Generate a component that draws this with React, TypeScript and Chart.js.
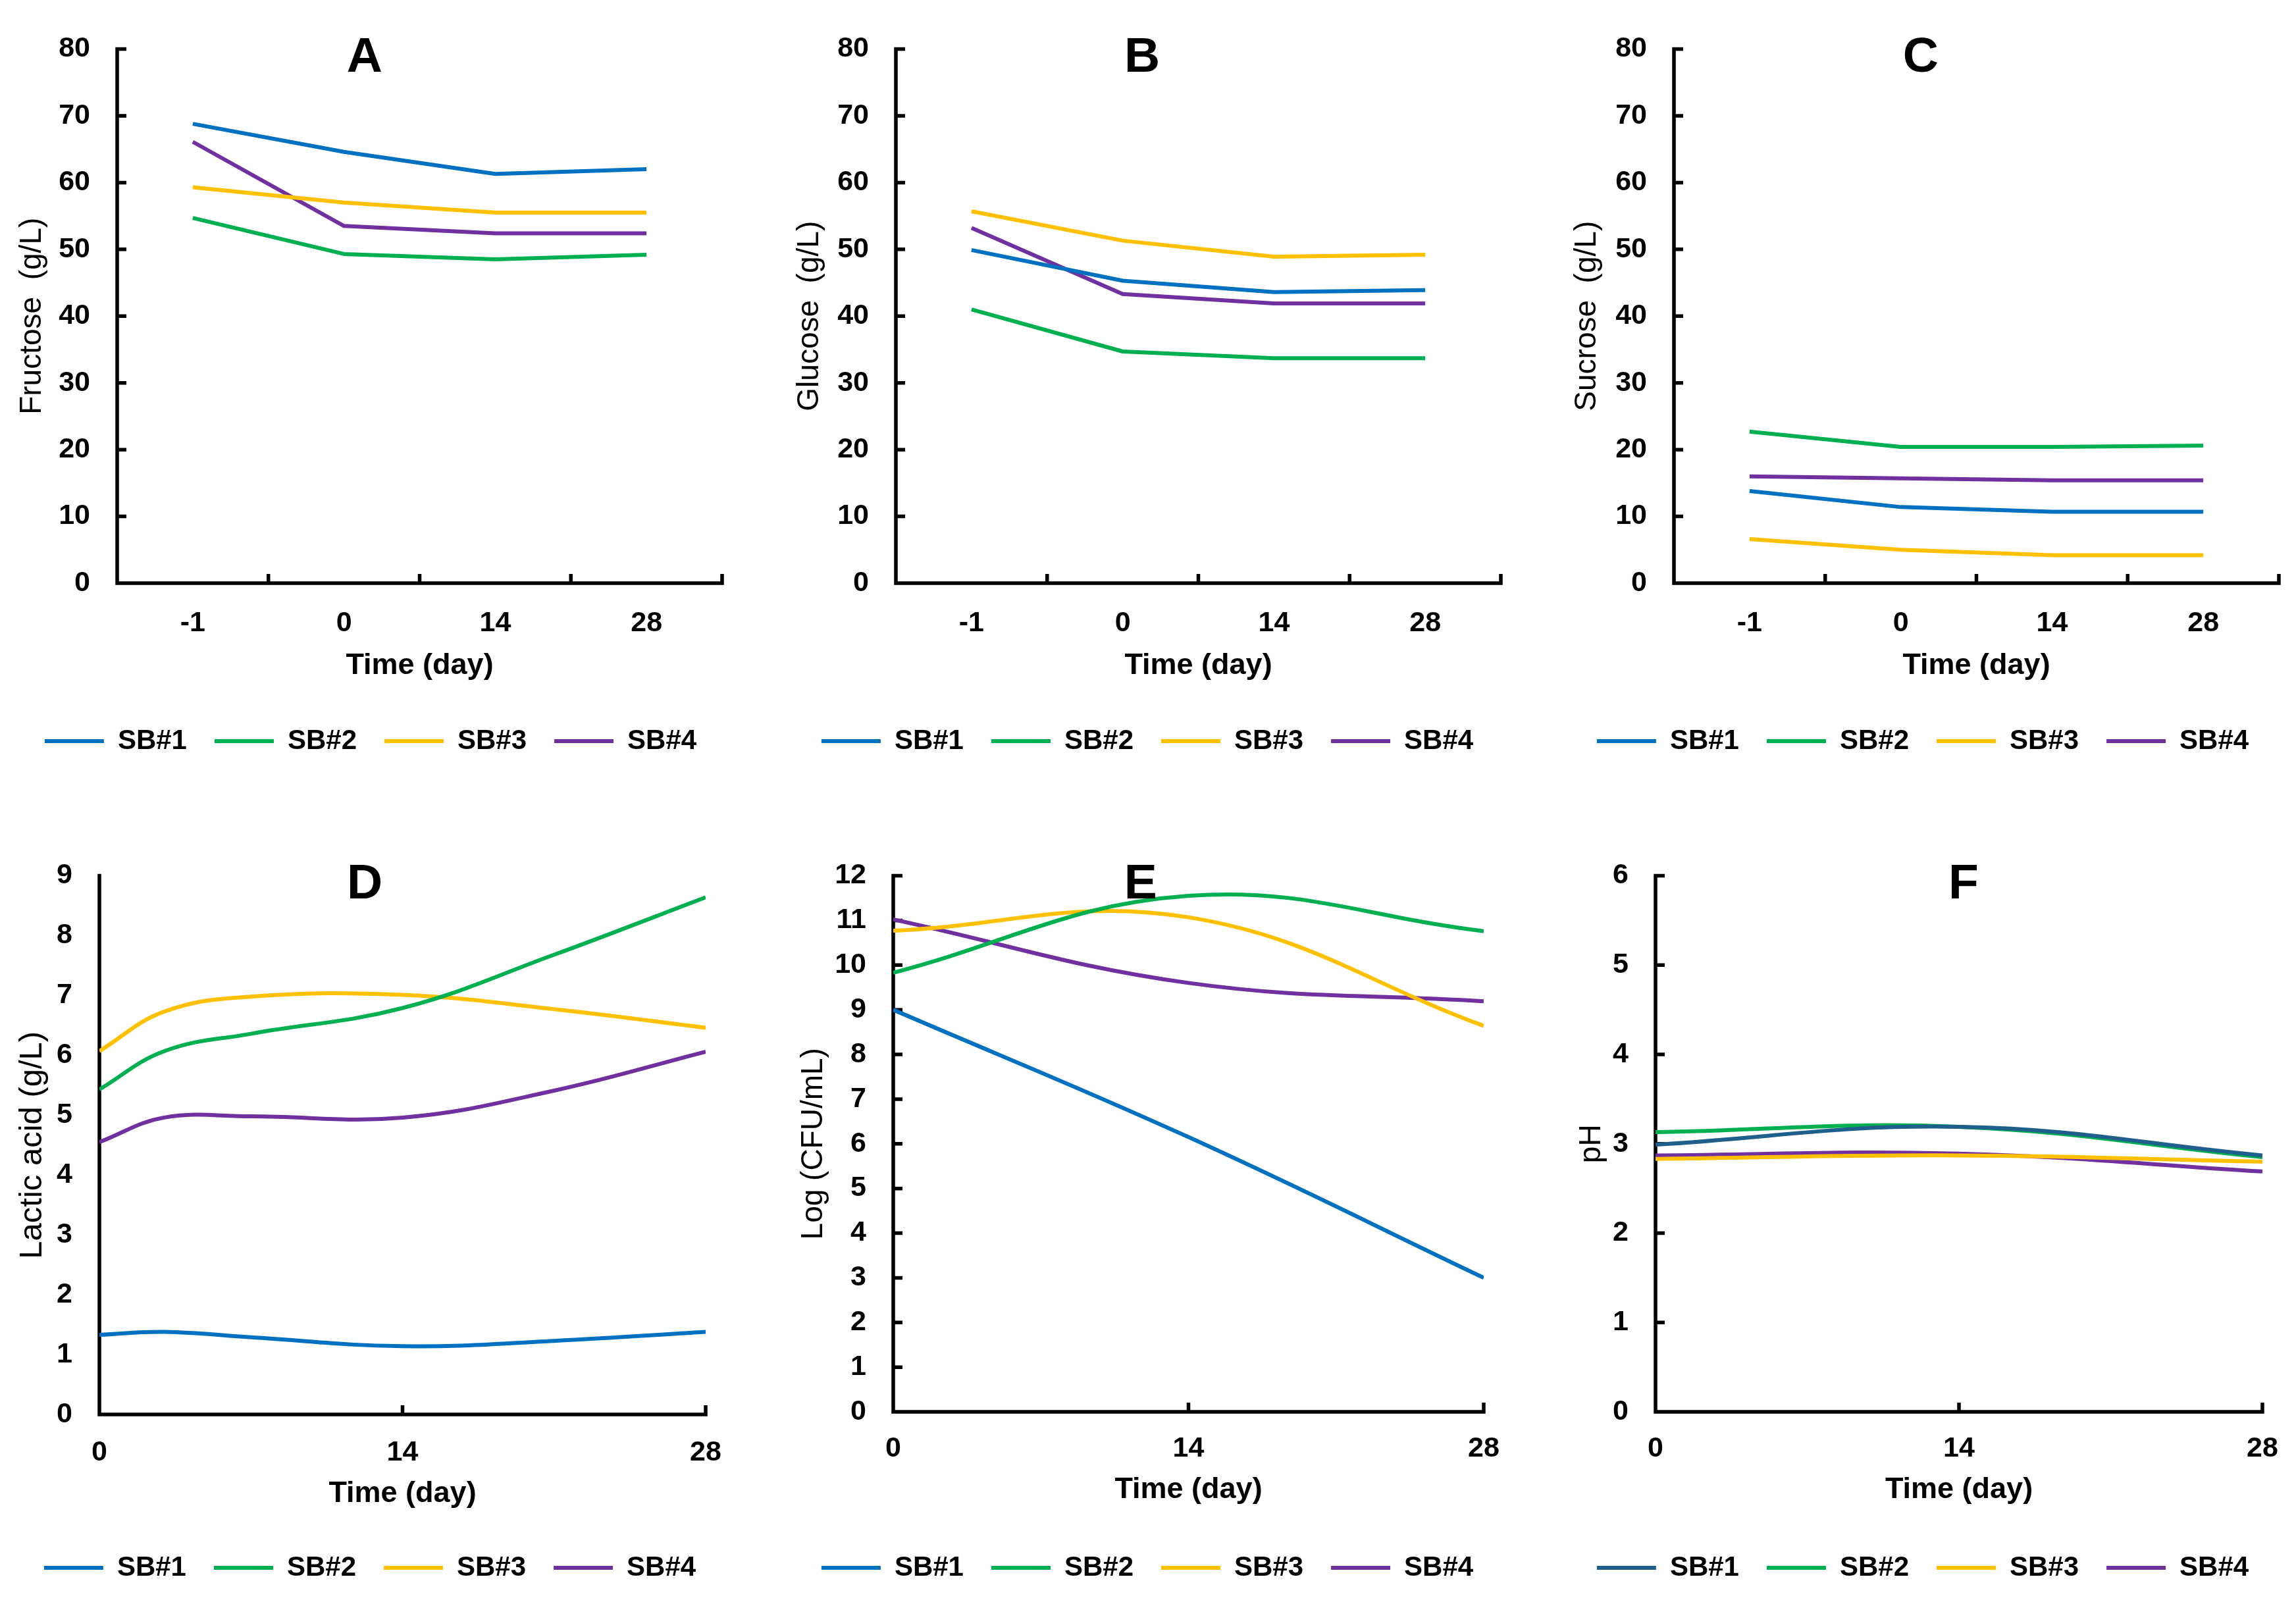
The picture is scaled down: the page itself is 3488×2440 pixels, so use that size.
import React, { useEffect, useRef } from 'react';
import { Chart, registerables } from 'chart.js';

Chart.register(...registerables);

if (typeof document !== 'undefined') {
  document.body.style.margin = '0';
  document.body.style.background = '#ffffff';
}

const FONT = "'Liberation Sans', Arial, Helvetica, sans-serif";

// ---------- data ----------
const seriesNames = ['SB#1', 'SB#2', 'SB#3', 'SB#4'];
const seriesColors = ['#0070C0', '#00B050', '#FFC000', '#7030A0'];
const phColors = ['#1F5F8B', '#00B050', '#FFC000', '#7030A0'];

const sugarDays = ['-1', '0', '14', '28'];
const fructose = [
  [68.8, 64.6, 61.3, 62.0],
  [54.7, 49.3, 48.5, 49.2],
  [59.3, 57.0, 55.5, 55.5],
  [66.1, 53.5, 52.4, 52.4],
];
const glucose = [
  [49.9, 45.3, 43.6, 43.9],
  [41.0, 34.7, 33.7, 33.7],
  [55.7, 51.3, 48.9, 49.2],
  [53.2, 43.3, 41.9, 41.9],
];
const sucrose = [
  [13.8, 11.4, 10.7, 10.7],
  [22.7, 20.4, 20.4, 20.6],
  [6.6, 5.0, 4.2, 4.2],
  [16.0, 15.7, 15.4, 15.4],
];

const lacticDays = [0, 3, 7, 14, 21, 28];
const lactic = [
  [1.33, 1.38, 1.29, 1.14, 1.23, 1.38],
  [5.43, 6.07, 6.36, 6.79, 7.68, 8.64],
  [6.07, 6.73, 6.98, 7.01, 6.77, 6.46],
  [4.55, 4.96, 4.98, 4.96, 5.41, 6.06],
];

const countDays = [0, 14, 28];
const logCount = [
  [9.0, 6.15, 3.0],
  [9.83, 11.55, 10.76],
  [10.77, 11.07, 8.64],
  [11.02, 9.6, 9.19],
];

const phDays = [0, 14, 28];
const ph = [
  [2.99, 3.19, 2.87],
  [3.13, 3.19, 2.85],
  [2.83, 2.87, 2.8],
  [2.87, 2.89, 2.69],
];

const sugarAxis = { max: 80, step: 10 };
const lacticAxis = { max: 9, step: 1 };
const countAxis = { max: 12, step: 1 };
const phAxis = { max: 6, step: 1 };
const timeTicks = { min: 0, max: 28, step: 14 };

// ---------- layout ----------
type Geo = {
  plotL: number; plotR: number; plotT: number; plotB: number;
  yTitleX: number; xLabelY: number; xTitleY: number; legendY: number; legendCX: number;
  letterFrac: number; letterDy: number;
};

type PanelDef = {
  key: string;
  letter: string;
  yTitle: string;
  yTitleSize: number;
  yAxis: { max: number; step: number };
  kind: 'cat' | 'lin';
  days: (string | number)[];
  data: number[][];
  colors: string[];
  tension: number;
  yTicks: boolean;
  geo: Geo;
};

const TICK_FONT = 43;
const LEG_FONT = 42;
const LEG_PAD = 42;
const XT_FONT = 45;
const LINE_W = 6;
const AXIS_W = 5.5;
const EXTRA_R = 70; // spare room right of the plot so the legend fits on one row

function layoutFor(g: Geo, ytSize: number) {
  const legBoxLeft = 2 * g.legendCX - g.plotR - EXTRA_R;
  const left = Math.min(legBoxLeft, g.yTitleX - 40);
  const padL = legBoxLeft - left;
  const padR = 30;
  const w = g.plotR + EXTRA_R + padR - left;
  const padT = 50;
  const top = g.plotT - padT;
  const legendTop = g.legendY - LEG_PAD - LEG_FONT / 2;
  const legendH = LEG_FONT + LEG_PAD + 10;
  const padB = 10;
  const h = legendTop + legendH + padB - top;
  return {
    left, top, w, h, padL, padR, padT, padB,
    xAxisH: legendTop - g.plotB,
    yAxisW: g.plotL - legBoxLeft,
    yTitlePad: g.yTitleX - legBoxLeft - ytSize / 2,
    xTickPad: g.xLabelY - g.plotB - TICK_FONT / 2,
    xTitlePadB: legendTop - g.xTitleY - XT_FONT / 2,
  };
}

const panels: PanelDef[] = [
  {
    key: 'A', letter: 'A', yTitle: 'Fructose  (g/L)', yTitleSize: 46, yAxis: sugarAxis, kind: 'cat', days: sugarDays,
    data: fructose, colors: seriesColors, tension: 0, yTicks: true,
    geo: { plotL: 178, plotR: 1097, plotT: 62, plotB: 886, yTitleX: 49, xLabelY: 947, xTitleY: 1012, legendY: 1126, legendCX: 563, letterFrac: 0.409, letterDy: 14 },
  },
  {
    key: 'B', letter: 'B', yTitle: 'Glucose  (g/L)', yTitleSize: 46, yAxis: sugarAxis, kind: 'cat', days: sugarDays,
    data: glucose, colors: seriesColors, tension: 0, yTicks: true,
    geo: { plotL: 1361, plotR: 2280, plotT: 62, plotB: 886, yTitleX: 1230, xLabelY: 947, xTitleY: 1012, legendY: 1126, legendCX: 1743, letterFrac: 0.407, letterDy: 14 },
  },
  {
    key: 'C', letter: 'C', yTitle: 'Sucrose  (g/L)', yTitleSize: 46, yAxis: sugarAxis, kind: 'cat', days: sugarDays,
    data: sucrose, colors: seriesColors, tension: 0, yTicks: true,
    geo: { plotL: 2543, plotR: 3462, plotT: 62, plotB: 886, yTitleX: 2411, xLabelY: 947, xTitleY: 1012, legendY: 1126, legendCX: 2921, letterFrac: 0.408, letterDy: 14 },
  },
  {
    key: 'D', letter: 'D', yTitle: 'Lactic acid (g/L)', yTitleSize: 49, yAxis: lacticAxis, kind: 'lin', days: lacticDays,
    data: lactic, colors: seriesColors, tension: 0.4, yTicks: false,
    geo: { plotL: 151, plotR: 1072, plotT: 1318, plotB: 2149, yTitleX: 49, xLabelY: 2207, xTitleY: 2270, legendY: 2382, legendCX: 562, letterFrac: 0.4376, letterDy: 14 },
  },
  {
    key: 'E', letter: 'E', yTitle: 'Log (CFU/mL)', yTitleSize: 46, yAxis: countAxis, kind: 'lin', days: countDays,
    data: logCount, colors: seriesColors, tension: 0.4, yTicks: true,
    geo: { plotL: 1357, plotR: 2254, plotT: 1318, plotB: 2145, yTitleX: 1236, xLabelY: 2201, xTitleY: 2264, legendY: 2382, legendCX: 1743, letterFrac: 0.419, letterDy: 14 },
  },
  {
    key: 'F', letter: 'F', yTitle: 'pH', yTitleSize: 46, yAxis: phAxis, kind: 'lin', days: phDays,
    data: ph, colors: phColors, tension: 0.4, yTicks: true,
    geo: { plotL: 2515, plotR: 3437, plotT: 1318, plotB: 2145, yTitleX: 2418, xLabelY: 2201, xTitleY: 2264, legendY: 2382, legendCX: 2921, letterFrac: 0.5076, letterDy: 14 },
  },
];

// ---------- plugins ----------
const axisMarks = {
  id: 'axisMarks',
  beforeDatasetsDraw(chart: any, _args: any, opts: any) {
    const { ctx, chartArea: a } = chart;
    const xs = chart.scales.x;
    const ys = chart.scales.y;
    const lw = AXIS_W;
    const tl = 14;
    ctx.save();
    ctx.strokeStyle = '#000';
    ctx.lineWidth = lw;
    ctx.lineCap = 'butt';
    ctx.beginPath();
    ctx.moveTo(a.left, a.top - lw / 2);
    ctx.lineTo(a.left, a.bottom + lw / 2);
    ctx.moveTo(a.left - lw / 2, a.bottom);
    ctx.lineTo(a.right + lw / 2, a.bottom);
    if (opts.yTicks) {
      for (const t of ys.ticks) {
        const py = ys.getPixelForValue(t.value);
        ctx.moveTo(a.left, py);
        ctx.lineTo(a.left + tl, py);
      }
    }
    if (opts.between) {
      const n = xs.getLabels().length;
      for (let i = 0; i < n; i++) {
        const px = i < n - 1 ? (xs.getPixelForValue(i) + xs.getPixelForValue(i + 1)) / 2 : a.right;
        ctx.moveTo(px, a.bottom);
        ctx.lineTo(px, a.bottom - tl);
      }
    } else {
      for (const t of xs.ticks) {
        if (t.value <= xs.min) continue;
        const px = xs.getPixelForValue(t.value);
        ctx.moveTo(px, a.bottom);
        ctx.lineTo(px, a.bottom - tl);
      }
    }
    ctx.stroke();
    ctx.restore();
  },
};

const panelLetter = {
  id: 'panelLetter',
  afterDraw(chart: any, _args: any, opts: any) {
    const { ctx, chartArea: a } = chart;
    ctx.save();
    ctx.font = `bold 75px ${FONT}`;
    ctx.fillStyle = '#000';
    ctx.textAlign = 'center';
    ctx.textBaseline = 'middle';
    ctx.fillText(opts.text, a.left + opts.frac * (a.right - a.left), a.top + opts.dy);
    ctx.restore();
  },
};

function buildConfig(p: PanelDef, L: ReturnType<typeof layoutFor>): any {
  const datasets = p.data.map((vals, i) => ({
    label: seriesNames[i],
    data: p.kind === 'cat' ? vals : vals.map((v, j) => ({ x: p.days[j] as number, y: v })),
    borderColor: p.colors[i],
    backgroundColor: p.colors[i],
    borderWidth: LINE_W,
    pointRadius: 0,
    pointHoverRadius: 0,
    tension: p.tension,
    fill: false,
    borderJoinStyle: 'round',
    yAxisID: 'y',
    xAxisID: 'x',
  }));

  const tickFont = { family: FONT, size: TICK_FONT, weight: 'bold', lineHeight: 1 };
  const xTitle = {
    display: true,
    text: 'Time (day)',
    color: '#000',
    font: { family: FONT, size: XT_FONT, weight: 'bold', lineHeight: 1 },
    padding: { top: 0, bottom: L.xTitlePadB },
  };
  const xCommon = {
    grid: { display: false, drawTicks: false },
    border: { display: false },
    title: xTitle,
    afterFit: (s: any) => { s.height = L.xAxisH; },
  };
  const xScale = p.kind === 'cat'
    ? {
        type: 'category',
        labels: p.days,
        offset: true,
        ticks: { font: tickFont, color: '#000', padding: L.xTickPad, maxRotation: 0 },
        ...xCommon,
      }
    : {
        type: 'linear',
        min: timeTicks.min,
        max: timeTicks.max,
        ticks: { stepSize: timeTicks.step, font: tickFont, color: '#000', padding: L.xTickPad, maxRotation: 0 },
        ...xCommon,
      };

  return {
    type: 'line',
    data: p.kind === 'cat' ? { labels: p.days, datasets } : { datasets },
    plugins: [axisMarks, panelLetter],
    options: {
      responsive: false,
      maintainAspectRatio: false,
      devicePixelRatio: 1,
      animation: false,
      events: [],
      layout: { padding: { left: L.padL, right: L.padR, top: L.padT, bottom: L.padB } },
      scales: {
        x: xScale,
        y: {
          type: 'linear',
          position: 'left',
          min: 0,
          max: p.yAxis.max,
          ticks: { stepSize: p.yAxis.step, autoSkip: false, font: tickFont, color: '#000', padding: 41 },
          grid: { display: false, drawTicks: false },
          border: { display: false },
          title: {
            display: true,
            text: p.yTitle,
            color: '#000',
            font: { family: FONT, size: p.yTitleSize, weight: 'normal', lineHeight: 1 },
            padding: { top: L.yTitlePad, bottom: 0 },
          },
          afterFit: (s: any) => { s.width = L.yAxisW; },
        },
        spare: {
          type: 'linear',
          position: 'right',
          display: true,
          min: 0,
          max: 1,
          ticks: { display: false },
          grid: { display: false, drawTicks: false },
          border: { display: false },
          title: { display: false },
          afterFit: (s: any) => { s.width = EXTRA_R; },
        },
      },
      plugins: {
        legend: {
          display: true,
          position: 'bottom',
          labels: {
            usePointStyle: true,
            pointStyle: 'line',
            pointStyleWidth: 90,
            padding: LEG_PAD,
            color: '#000',
            font: { family: FONT, size: LEG_FONT, weight: 'bold', lineHeight: 1 },
          },
        },
        tooltip: { enabled: false },
        title: { display: false },
        axisMarks: { yTicks: p.yTicks, between: p.kind === 'cat' },
        panelLetter: { text: p.letter, frac: p.geo.letterFrac, dy: p.geo.letterDy },
      },
    },
  };
}

function PanelChart({ p }: { p: PanelDef }) {
  const ref = useRef<HTMLCanvasElement | null>(null);
  const L = layoutFor(p.geo, p.yTitleSize);
  useEffect(() => {
    if (!ref.current) return;
    const chart = new Chart(ref.current, buildConfig(p, L));
    return () => chart.destroy();
  }, []);
  return (
    <canvas
      ref={ref}
      width={L.w}
      height={L.h}
      style={{ position: 'absolute', left: L.left, top: L.top, width: L.w, height: L.h }}
    />
  );
}

export default function App() {
  return (
    <div style={{ position: 'relative', width: 3488, height: 2440, background: '#ffffff', overflow: 'hidden' }}>
      {panels.map((p) => (
        <PanelChart key={p.key} p={p} />
      ))}
    </div>
  );
}
